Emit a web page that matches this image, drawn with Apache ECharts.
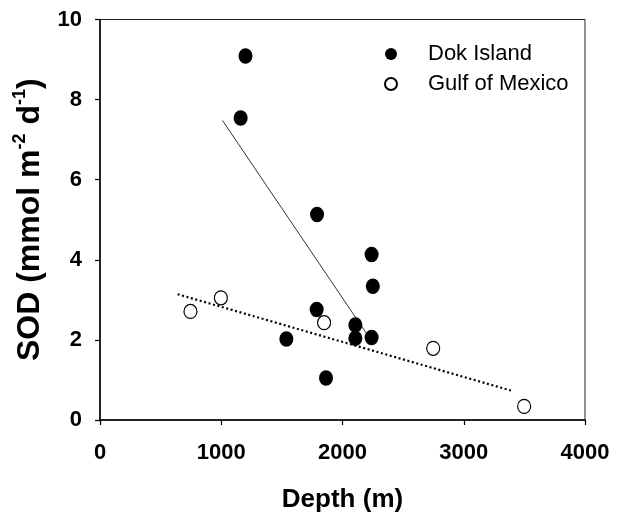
<!DOCTYPE html>
<html>
<head>
<meta charset="utf-8">
<script src="https://cdn.jsdelivr.net/npm/echarts@6/dist/echarts.min.js"></script>
<style>
  html, body { margin: 0; padding: 0; background: #fff; }
  #chart { width: 619px; height: 518px; }
</style>
</head>
<body>
<div id="chart"></div>
<script>
// depth (m), SOD (mmol m-2 d-1)
var dokIsland = [
  [1200, 9.09], [1160, 7.54], [1790, 5.13], [2240, 4.13], [2250, 3.34],
  [1787, 2.76], [2106, 2.37], [2106, 2.04], [2240, 2.06], [1537, 2.02],
  [1864, 1.05]
];
var gulfOfMexico = [
  [746, 2.71], [997, 3.05], [1848, 2.43], [2748, 1.79], [3498, 0.34]
];
// regression lines (end points)
var dokFit = [[1010, 7.48], [2200, 2.15]];
var gulfFit = [[640, 3.14], [3395, 0.73]];

var xTicks = { min: 0, max: 4000, interval: 1000 };
var yTicks = { min: 0, max: 10, interval: 2 };

var font = '"Liberation Sans", Arial, sans-serif';

var chart = echarts.init(document.getElementById('chart'));

var option = {
  backgroundColor: '#fff',
  animation: false,
  grid: {
    left: 100,
    right: 34,
    top: 19.5,
    bottom: 97,
    show: true,
    borderColor: '#222',
    borderWidth: 1
  },
  legend: {
    orient: 'vertical',
    left: 379,
    top: 38,
    itemWidth: 64,
    itemHeight: 12,
    itemGap: 8,
    data: ['Dok Island', 'Gulf of Mexico'],
    textStyle: { fontFamily: font, fontSize: 22, color: '#000', lineHeight: 22 }
  },
  xAxis: {
    type: 'value',
    min: xTicks.min,
    max: xTicks.max,
    interval: xTicks.interval,
    name: 'Depth (m)',
    nameLocation: 'middle',
    nameGap: 67,
    nameTextStyle: { fontFamily: font, fontSize: 26, fontWeight: 'bold', color: '#000' },
    axisLine: { show: true, lineStyle: { color: '#000', width: 1.5 } },
    axisTick: { show: true, inside: false, length: 5, lineStyle: { color: '#000', width: 1.2 } },
    axisLabel: {
      margin: 22, fontFamily: font, fontSize: 22, fontWeight: 'bold', color: '#000',
      formatter: function (v) { return String(v); }
    },
    splitLine: { show: false }
  },
  yAxis: {
    type: 'value',
    min: yTicks.min,
    max: yTicks.max,
    interval: yTicks.interval,
    name: '{a|SOD (mmol m}{s|-2}{a| d}{s|-1}{a|)}',
    nameLocation: 'middle',
    nameRotate: 90,
    nameGap: 39,
    nameTextStyle: {
      fontFamily: font,
      color: '#000',
      rich: {
        a: { fontFamily: font, fontSize: 32, fontWeight: 'bold', color: '#000', lineHeight: 36, verticalAlign: 'bottom' },
        s: { fontFamily: font, fontSize: 18, fontWeight: 'bold', color: '#000', lineHeight: 18, verticalAlign: 'top' }
      }
    },
    axisLine: { show: true, lineStyle: { color: '#000', width: 1.5 } },
    axisTick: { show: true, inside: false, length: 5, lineStyle: { color: '#000', width: 1.2 } },
    axisLabel: {
      margin: 18, fontFamily: font, fontSize: 22, fontWeight: 'bold', color: '#000',
      formatter: function (v) { return String(v); }
    },
    splitLine: { show: false }
  },
  series: [
    {
      name: 'dokFit',
      type: 'line',
      data: dokFit,
      symbol: 'none',
      silent: true,
      lineStyle: { color: '#333', width: 1 },
      z: 1
    },
    {
      name: 'gulfFit',
      type: 'line',
      data: gulfFit,
      symbol: 'none',
      silent: true,
      lineStyle: { color: '#000', width: 2.2, type: [2, 2.6] },
      z: 1
    },
    {
      name: 'Dok Island',
      type: 'scatter',
      data: dokIsland,
      symbol: 'circle',
      symbolSize: [14, 15.5],
      itemStyle: { color: '#000', opacity: 1 },
      z: 3
    },
    {
      name: 'Gulf of Mexico',
      type: 'scatter',
      data: gulfOfMexico,
      symbol: 'circle',
      symbolSize: [13, 14],
      itemStyle: { color: '#fff', borderColor: '#000', borderWidth: 1.2, opacity: 1 },
      z: 3
    }
  ]
};

chart.setOption(option);
</script>
</body>
</html>
